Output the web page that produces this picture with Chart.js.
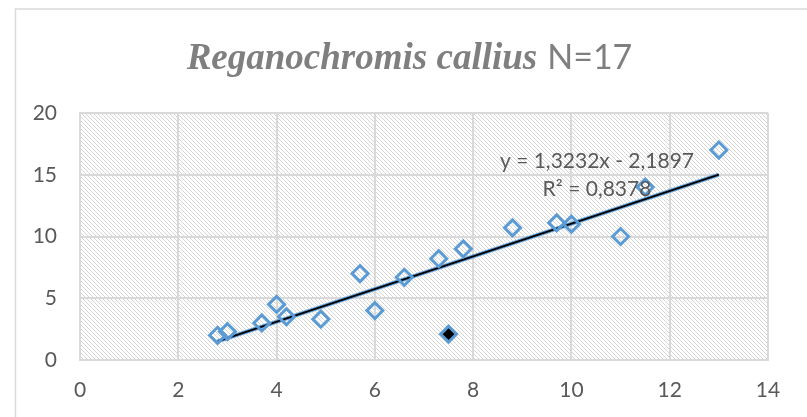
<!DOCTYPE html>
<html lang="es">

<head>
    <meta charset="UTF-8">
    <title>Reganochromis callius</title>
    <style>
        body { margin: 0; background: #ffffff; }
        #wrap { position: relative; width: 807px; height: 417px; }
        #titulo {
            position: absolute; left: 0; top: 36px; width: 819px; line-height: 40px;
            text-align: center; color: #7f7f7f; white-space: nowrap;
        }
        #titulo .sp { font-family: "Liberation Serif", serif; font-style: italic; font-weight: bold; font-size: 37px; }
        #titulo .n { font-family: Lato, sans-serif; font-size: 34px; margin-left: 6px; }
    </style>
</head>

<body>
    <div id="wrap">
        <canvas id="grafica" width="807" height="417"></canvas>
        <div id="titulo"><span class="sp">Reganochromis callius</span> <span class="n">N=17</span></div>
    </div>

    <script src="https://cdn.jsdelivr.net/npm/chart.js@4.4.0/dist/chart.umd.min.js"></script>
    <script>
        // datos
        const talla = [2.8, 3.0, 3.7, 4.0, 4.2, 4.9, 5.7, 6.0, 6.6, 7.3, 7.8, 8.8, 9.7, 10.0, 11.0, 11.5, 13.0];
        const valor = [2.0, 2.3, 3.0, 4.5, 3.5, 3.3, 7.0, 4.0, 6.7, 8.2, 9.0, 10.7, 11.1, 11.0, 10.0, 14.0, 17.0];
        const atipicoX = [7.5];
        const atipicoY = [2.1];
        // linea de tendencia: y = 1,3232x - 2,1897
        const pendiente = 1.3232;
        const intercepto = -2.1897;
        const tendX = [2.8, 13.0];
        const xTicks = [0, 2, 4, 6, 8, 10, 12, 14];
        const yTicks = [0, 5, 10, 15, 20];
        const ecuacion = ['y = 1,3232x - 2,1897', 'R² = 0,8378'];

        const azul = '#5b9bd5';
        const gris = '#d9d9d9';
        const texto = '#595959';

        // trama de fondo del area de trazado
        const trama = document.createElement('canvas');
        trama.width = 4; trama.height = 4;
        const tctx = trama.getContext('2d');
        tctx.fillStyle = '#ffffff';
        tctx.fillRect(0, 0, 4, 4);
        tctx.fillStyle = '#d6d6d6';
        for (let i = 0; i < 4; i++) tctx.fillRect(i, i, 1, 1);

        const fondo = {
            id: 'fondo',
            beforeDraw(chart) {
                const { ctx, chartArea: a } = chart;
                ctx.save();
                ctx.fillStyle = ctx.createPattern(trama, 'repeat');
                ctx.fillRect(a.left, a.top, a.right - a.left, a.bottom - a.top);
                // marco del grafico
                ctx.strokeStyle = gris;
                ctx.lineWidth = 1.5;
                ctx.beginPath();
                ctx.moveTo(15.5, 417);
                ctx.lineTo(15.5, 9);
                ctx.lineTo(807, 9);
                ctx.stroke();
                ctx.restore();
            }
        };

        const etiqueta = {
            id: 'etiqueta',
            afterDatasetsDraw(chart) {
                const { ctx, scales } = chart;
                const px = scales.x.getPixelForValue(10.52);
                const py = scales.y.getPixelForValue(16.1);
                ctx.save();
                ctx.font = '21px Lato';
                ctx.fillStyle = texto;
                ctx.textAlign = 'center';
                ctx.textBaseline = 'middle';
                ecuacion.forEach((l, i) => ctx.fillText(l, px, py + i * 28));
                ctx.restore();
            }
        };

        const ctx = document.getElementById('grafica').getContext('2d');
        const grafica = new Chart(ctx, {
            type: 'scatter',
            data: {
                datasets: [{
                    label: 'halo',
                    type: 'line',
                    data: tendX.map(x => ({ x: x, y: pendiente * x + intercepto })),
                    borderColor: azul,
                    borderWidth: 4,
                    pointRadius: 0,
                    order: 3
                }, {
                    label: 'tendencia',
                    type: 'line',
                    data: tendX.map(x => ({ x: x, y: pendiente * x + intercepto })),
                    borderColor: '#000000',
                    borderWidth: 1.8,
                    pointRadius: 0,
                    order: 2
                }, {
                    label: 'datos',
                    data: talla.map((x, i) => ({ x: x, y: valor[i] })),
                    pointStyle: 'rectRot',
                    pointRadius: 8,
                    pointBorderWidth: 3,
                    borderColor: azul,
                    backgroundColor: 'rgba(0,0,0,0)',
                    order: 1
                }, {
                    label: 'atipico',
                    data: atipicoX.map((x, i) => ({ x: x, y: atipicoY[i] })),
                    pointStyle: 'rectRot',
                    pointRadius: 8,
                    pointBorderWidth: 3,
                    borderColor: azul,
                    backgroundColor: '#000000',
                    order: 0
                }]
            },
            options: {
                responsive: false,
                animation: false,
                layout: { padding: { top: 113, right: 39, left: 0, bottom: 0 } },
                plugins: { legend: { display: false }, tooltip: { enabled: false } },
                scales: {
                    x: {
                        type: 'linear', min: 0, max: 14,
                        afterFit: s => { s.height = 57; },
                        afterBuildTicks: s => { s.ticks = xTicks.map(v => ({ value: v })); },
                        grid: { color: gris, lineWidth: 2, drawTicks: false },
                        border: { color: gris, width: 2 },
                        ticks: { padding: 18, color: texto, font: { family: 'Lato', size: 21 } }
                    },
                    y: {
                        type: 'linear', min: 0, max: 20,
                        afterFit: s => { s.width = 80; },
                        afterBuildTicks: s => { s.ticks = yTicks.map(v => ({ value: v })); },
                        grid: { color: gris, lineWidth: 2, drawTicks: false },
                        border: { color: gris, width: 2 },
                        ticks: { padding: 23, color: texto, font: { family: 'Lato', size: 21 } }
                    }
                }
            },
            plugins: [fondo, etiqueta]
        });
    </script>
</body>

</html>
